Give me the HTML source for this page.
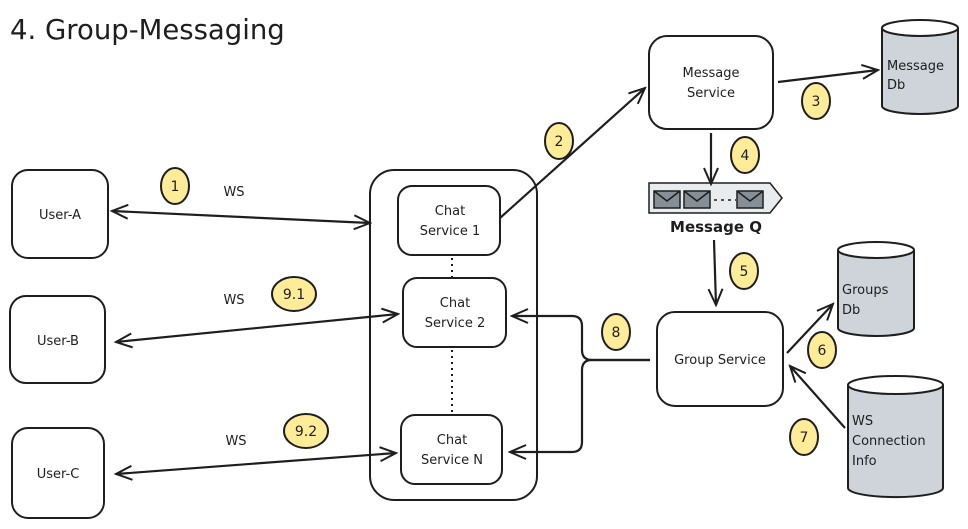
<!DOCTYPE html>
<html><head><meta charset="utf-8"><style>
html,body{margin:0;padding:0;background:#fff;}
svg{display:block;}
text{font-family:"DejaVu Sans","Liberation Sans",sans-serif;fill:#1e1e1e;}
</style></head><body>
<svg width="968" height="529" viewBox="0 0 968 529" xmlns="http://www.w3.org/2000/svg">
<defs>
<marker id="ah" viewBox="0 0 20 20" refX="18" refY="10" markerWidth="20" markerHeight="20" orient="auto-start-reverse" markerUnits="userSpaceOnUse">
<path d="M2,3 L18,10 L2,17" fill="none" stroke="#1e1e1e" stroke-width="2"/>
</marker>
</defs>
<rect width="968" height="529" fill="#fff"/>
<text x="10" y="39" font-size="27.5">4. Group-Messaging</text>

<g fill="none" stroke="#1e1e1e" stroke-width="2">
<rect x="12" y="170" width="96" height="88" rx="16"/>
<rect x="10" y="296" width="95" height="87" rx="16"/>
<rect x="12" y="428" width="92" height="90" rx="16"/>
<rect x="370" y="170" width="167" height="330" rx="24"/>
<rect x="398" y="186" width="102" height="69" rx="14"/>
<rect x="403" y="278" width="103" height="69" rx="14"/>
<rect x="401" y="415" width="101" height="69" rx="14"/>
<rect x="649" y="36" width="124" height="93" rx="18"/>
<rect x="657" y="312" width="126" height="94" rx="18"/>
<line x1="452" y1="258" x2="452" y2="278" stroke-dasharray="2 4"/>
<line x1="452" y1="350" x2="452" y2="412" stroke-dasharray="2 4"/>
</g>

<g stroke="#1e1e1e" stroke-width="2">
<path d="M882,28 V106 A38,8 0 0 0 958,106 V28" fill="#ced4da"/>
<ellipse cx="920" cy="28" rx="38" ry="8" fill="#fff"/>
<path d="M838,250 V328 A38,8 0 0 0 914,328 V250" fill="#ced4da"/>
<ellipse cx="876" cy="250" rx="38" ry="8" fill="#fff"/>
<path d="M848,385 V488 A47,9 0 0 0 943,488 V385" fill="#ced4da"/>
<ellipse cx="895.5" cy="385" rx="47.5" ry="9" fill="#fff"/>
</g>

<g stroke="#1e1e1e" stroke-width="1.5">
<path d="M649,183 H770 L782,198 L770,213 H649 Z" fill="#e9ecef"/>
<rect x="654" y="191" width="26" height="17" fill="#868e96"/>
<path d="M654,191 L667,201 L680,191" fill="none"/>
<rect x="684" y="191" width="26" height="17" fill="#868e96"/>
<path d="M684,191 L697,201 L710,191" fill="none"/>
<line x1="714" y1="200" x2="736" y2="200" stroke-dasharray="3 4"/>
<rect x="737" y="191" width="26" height="17" fill="#868e96"/>
<path d="M737,191 L750,201 L763,191" fill="none"/>
</g>
<text x="716" y="232" font-size="15" text-anchor="middle" font-weight="bold">Message Q</text>

<g fill="none" stroke="#1e1e1e" stroke-width="2.2" marker-end="url(#ah)">
<line x1="112" y1="211" x2="370" y2="223" marker-start="url(#ah)"/>
<line x1="116" y1="342" x2="398" y2="314" marker-start="url(#ah)"/>
<line x1="116" y1="474" x2="396" y2="453" marker-start="url(#ah)"/>
<line x1="500" y1="218" x2="645" y2="88"/>
<line x1="778" y1="82" x2="878" y2="70"/>
<line x1="711" y1="133" x2="711" y2="184"/>
<line x1="714" y1="240" x2="716" y2="305"/>
<line x1="787" y1="353" x2="833" y2="304"/>
<line x1="845" y1="428" x2="790" y2="366"/>
<path d="M650,360 H592 Q582,360 582,350 V326 Q582,316 572,316 H512"/>
<path d="M650,360 H592 Q582,360 582,370 V442 Q582,452 572,452 H510"/>
</g>

<g fill="#ffec99" stroke="#1e1e1e" stroke-width="2">
<ellipse cx="175" cy="186" rx="14" ry="18"/>
<ellipse cx="559" cy="141" rx="14" ry="18"/>
<ellipse cx="816" cy="101" rx="14" ry="18"/>
<ellipse cx="745" cy="155" rx="14" ry="18"/>
<ellipse cx="744" cy="271" rx="14" ry="18"/>
<ellipse cx="822" cy="350" rx="14" ry="18"/>
<ellipse cx="804" cy="437" rx="14" ry="18"/>
<ellipse cx="616" cy="332" rx="14" ry="18"/>
<ellipse cx="294" cy="294" rx="22" ry="17"/>
<ellipse cx="306" cy="431" rx="22" ry="17"/>
</g>
<g font-size="14" text-anchor="middle">
<text x="175" y="191">1</text>
<text x="559" y="146">2</text>
<text x="816" y="106">3</text>
<text x="745" y="160">4</text>
<text x="744" y="276">5</text>
<text x="822" y="355">6</text>
<text x="804" y="442">7</text>
<text x="616" y="337">8</text>
<text x="294" y="299">9.1</text>
<text x="306" y="436">9.2</text>
</g>

<g font-size="13" text-anchor="middle">
<text x="60" y="219">User-A</text>
<text x="58" y="345">User-B</text>
<text x="58" y="478">User-C</text>
<text x="450" y="215">Chat</text><text x="450" y="235">Service 1</text>
<text x="455" y="307">Chat</text><text x="455" y="327">Service 2</text>
<text x="452" y="444">Chat</text><text x="452" y="464">Service N</text>
<text x="711" y="77">Message</text><text x="711" y="97">Service</text>
<text x="720" y="364">Group Service</text>
<text x="234" y="196">WS</text>
<text x="234" y="304">WS</text>
<text x="236" y="445">WS</text>
</g>
<g font-size="13">
<text x="887" y="70">Message</text><text x="887" y="89">Db</text>
<text x="842" y="294">Groups</text><text x="842" y="314">Db</text>
<text x="852" y="425">WS</text><text x="852" y="445">Connection</text><text x="852" y="465">Info</text>
</g>
</svg>
</body></html>
